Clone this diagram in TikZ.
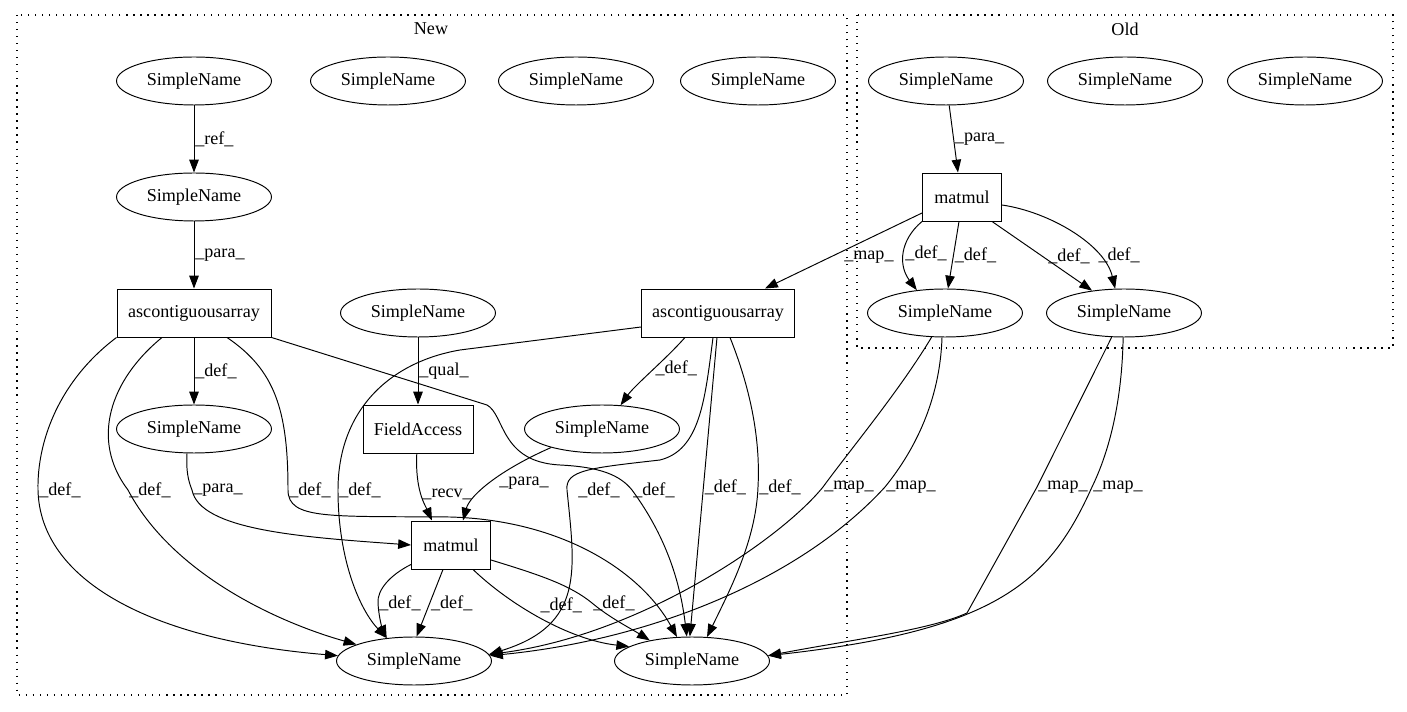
\documentclass[tikz,border=0pt]{standalone}
\usepackage{fontspec}
\setmainfont{Liberation Serif}
\usetikzlibrary{shapes.geometric,arrows.meta,calc}
\tikzstyle{simple}=[ellipse,draw=black,line width=0.55pt,inner sep=0pt,minimum width=3.1cm,minimum height=0.96cm]
\tikzstyle{op}=[rectangle,draw=black,line width=0.55pt,inner sep=0pt,minimum height=0.96cm]
\tikzstyle{flow}=[draw=black,line width=0.55pt,-{Triangle[length=7.3pt,width=5.4pt]}]
\tikzstyle{lbl}=[anchor=west,inner sep=0.5pt]
\tikzstyle{cluster}=[draw=black,line width=0.6pt,dash pattern=on 0.7pt off 3.3pt]

\begin{document}
\begin{tikzpicture}[x=0.02cm,y=-0.02cm,font=\fontsize{10.3}{12.4}\selectfont]
\useasboundingbox (0,0) rectangle (1407,712);
% clusters
\draw[cluster] (17,15) rectangle (847,695);
\draw[cluster] (857,15) rectangle (1393,348);
\node (new) at (431,29) {New};
\node (old) at (1125,29) {Old};

% new
\node[simple] (n1) at (194,81) {SimpleName};
\foreach \x/\l in {388/n2,576/n3,758/n4,1125/o2,1305/o3}
	\node[simple] (\l) at (\x,81) {SimpleName};
\node[simple] (n5) at (194,197) {SimpleName};
\node[op,minimum width=3.08cm] (asc1) at (194,313) {ascontiguousarray};
\node[simple] (n6) at (418,313) {SimpleName};
\node[op,minimum width=3.06cm] (asc2) at (718,313) {ascontiguousarray};
\node[simple] (n7) at (194,429) {SimpleName};
\node[op,minimum width=2.2cm] (fa) at (418,429) {FieldAccess};
\node[simple] (n8) at (602,429) {SimpleName};
\node[op,minimum width=1.58cm] (mm1) at (451,545) {matmul};
\node[simple] (b1) at (414,661) {SimpleName};
\node[simple] (b2) at (692,661) {SimpleName};

% old
\node[simple] (o1) at (946,81) {SimpleName};
\node[op,minimum width=1.58cm] (mm2) at (962,197) {matmul};
\node[simple] (o4) at (945,313) {SimpleName};
\node[simple] (o5) at (1124,313) {SimpleName};

\draw[flow] (n1) -- node[lbl]{\_ref\_} (n5);
\draw[flow] (n5) -- node[lbl]{\_para\_} (asc1);
\draw[flow] (n6) -- node[lbl]{\_qual\_} (fa);
\draw[flow] (asc1) -- node[lbl]{\_def\_} (n7);
\draw[flow] ($(asc2.south)+(-33,0)$) .. controls (665,360) and (635,385) .. (n8.52) node[lbl,pos=.45]{\_def\_};
\draw[flow] (fa) .. controls (415,490) and (425,505) .. ($(mm1.north)+(-19,0)$) node[lbl,pos=.5]{\_recv\_};
\draw[flow] (n8.200) .. controls (500,470) and (470,495) .. ($(mm1.north)+(12,0)$) node[lbl,pos=.5,xshift=0.15cm]{\_para\_};
\draw[flow] (n7.254) .. controls (186,470) and (188,480) .. (192,490) node[lbl]{\_para\_} .. controls (200,530) and (300,537) .. (mm1.west);

% ascontiguousarray defs
\draw[flow] (asc1.south west) .. controls (60,380) and (37,440) .. (38,490) node[lbl]{\_def\_} .. controls (40,580) and (150,640) .. (b1.176);
\draw[flow] ($(asc1.south)+(-32,0)$) .. controls (110,380) and (90,440) .. (128,490) node[lbl]{\_def\_} .. controls (170,570) and (270,620) .. (b1.164);
\draw[flow] ($(asc1.south)+(33,0)$) .. controls (275,370) and (288,410) .. (288,490) node[lbl]{\_def\_} .. controls (288,520) and (330,516) .. (450,517) .. controls (560,520) and (640,570) .. (b2.122);
\draw[flow] (asc1.south east) -- (487,405) .. controls (505,415) and (500,462) .. (560,465) .. controls (600,467) and (620,475) .. (632,490) node[lbl]{\_def\_} .. controls (665,535) and (680,580) .. (b2.102);
\draw[flow] ($(asc2.west)+(0,14)$) -- (460,350) .. controls (390,362) and (338,410) .. (338,490) node[lbl]{\_def\_} .. controls (338,560) and (360,610) .. (b1.140);
\draw[flow] ($(asc2.south)+(-5,0)$) .. controls (705,400) and (700,450) .. (660,460) .. controls (590,468) and (565,470) .. (567,490) node[lbl,xshift=0.2cm]{\_def\_} .. controls (575,570) and (585,625) .. (b1.5);
\draw[flow] ($(asc2.south)+(-1,0)$) -- node[lbl]{\_def\_} (b2.95);
\draw[flow] ($(asc2.south)+(12,0)$) .. controls (755,400) and (760,450) .. (758,487) node[lbl]{\_def\_} .. controls (756,540) and (730,590) .. (b2.58);

% matmul defs
\draw[flow] ($(mm1.south west)+(0,-5)$) .. controls (390,575) and (377,590) .. (378,603) node[lbl]{\_def\_} .. controls (379,620) and (383,630) .. (b1.140);
\draw[flow] ($(mm1.south)+(-8,0)$) -- node[lbl]{\_def\_} (b1.84);
\draw[flow] ($(mm1.south)+(22,0)$) .. controls (510,605) and (570,640) .. (b2.167) node[lbl,pos=.35,xshift=0.4cm]{\_def\_};
\draw[flow] ($(mm1.east)+(0,15)$) .. controls (540,575) and (570,585) .. (592,603) node[lbl]{\_def\_} .. controls (610,618) and (630,628) .. (b2.154);

% old side
\draw[flow] (o1) -- node[lbl]{\_para\_} ($(mm2.north)+(-4,0)$);
\draw[flow] ($(mm2.west)+(0,16)$) -- node[lbl,pos=.58,xshift=0.24cm]{\_map\_} ($(asc2.north)+(47,0)$);
\draw[flow] (mm2.south west) .. controls (900,240) and (898,265) .. (o4.141) node[lbl,pos=.5]{\_def\_};
\draw[flow] ($(mm2.south)+(-3,0)$) -- node[lbl]{\_def\_} (o4.83);
\draw[flow] ($(mm2.south)+(30,0)$) -- node[lbl,xshift=0.1cm]{\_def\_} (o5.145);
\draw[flow] ($(mm2.east)+(0,8)$) .. controls (1050,212) and (1105,245) .. (o5.110) node[lbl,pos=.72]{\_def\_};

% maps
\draw[flow] (o4.241) .. controls (900,390) and (850,450) .. (823,487) node[lbl]{\_map\_} .. controls (780,540) and (640,635) .. (b1.5);
\draw[flow] (o4.263) .. controls (940,400) and (915,450) .. (885,487) node[lbl]{\_map\_} .. controls (800,580) and (650,640) .. (b1.4);
\draw[flow] (o5.243) -- (1037,487) node[lbl]{\_map\_} -- (967,613) .. controls (930,630) and (850,640) .. (b2.4);
\draw[flow] (o5.268) .. controls (1122,400) and (1110,450) .. (1092,487) node[lbl]{\_map\_} .. controls (1050,580) and (1000,630) .. (b2.4);
\end{tikzpicture}
\end{document}
